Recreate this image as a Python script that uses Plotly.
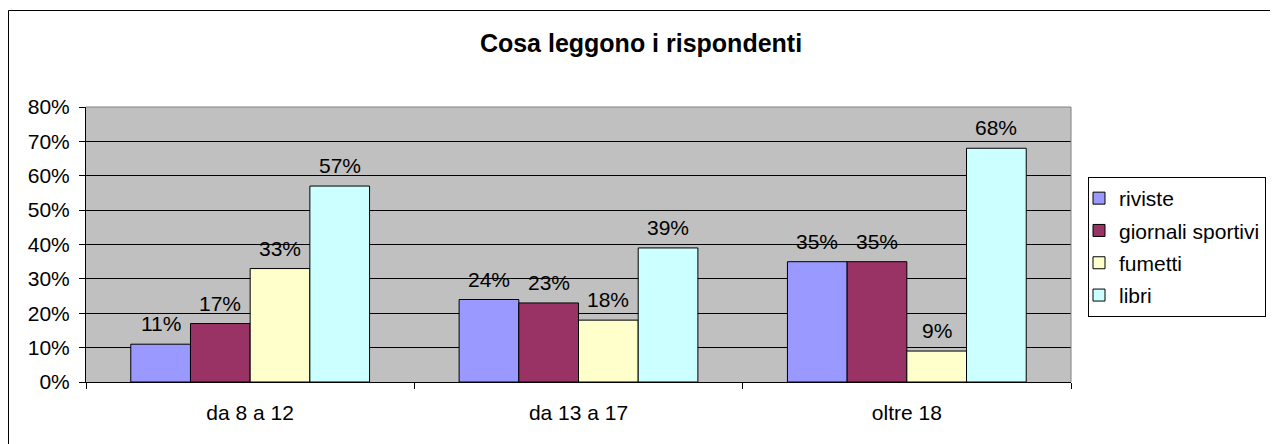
import plotly.graph_objects as go

# data
categories = ["da 8 a 12", "da 13 a 17", "oltre 18"]
series_names = ["riviste", "giornali sportivi", "fumetti", "libri"]
riviste = [0.11, 0.24, 0.35]
giornali_sportivi = [0.17, 0.23, 0.35]
fumetti = [0.33, 0.18, 0.09]
libri = [0.57, 0.39, 0.68]
colors = ["#9999FF", "#993366", "#FFFFCC", "#CCFFFF"]

# page body has an 8px margin, so the figure is drawn 8px in from the corner
OFF = 8
W, H = 1278 - OFF, 444 - OFF
L, R, T, B = 86 - OFF, 1278 - 1071, 107 - OFF, 444 - 382
FONT = "Liberation Sans, Arial, sans-serif"
BARGAP = 1.5 / 5.5  # excel gap width 150%

pw = W - L - R
ph = H - T - B


def px_x(p):
    # p is a pixel position in the screenshot
    return (p - OFF - L) / pw


def px_y(p):
    return (H - B - (p - OFF)) / ph


fig = go.Figure()
all_values = [riviste, giornali_sportivi, fumetti, libri]
for i, (name, vals) in enumerate(zip(series_names, all_values)):
    fig.add_trace(go.Bar(
        x=categories, y=vals, name=name, legendgroup=name,
        marker=dict(color=colors[i], line=dict(color="black", width=1)),
    ))

# value labels above the bars (placed like excel, a bit higher than plotly's outside text)
bw = (1 - BARGAP) / len(series_names)
for i, vals in enumerate(all_values):
    for k, v in enumerate(vals):
        fig.add_annotation(
            x=k + (i - 1.5) * bw, y=v, xref="x", yref="y",
            text=f"{round(v * 100)}%", showarrow=False,
            yanchor="bottom", yshift=7,
            font=dict(family=FONT, size=21, color="black"),
        )

# outer chart frame
fig.add_shape(type="rect", xref="paper", yref="paper",
              x0=px_x(8.5), x1=px_x(1273.5), y0=px_y(452), y1=px_y(10.5),
              line=dict(color="black", width=1), layer="above")
# plot area border top / right (grey)
fig.add_shape(type="line", xref="paper", yref="paper", x0=0, x1=1, y0=1, y1=1,
              line=dict(color="#808080", width=1), layer="above")
fig.add_shape(type="line", xref="paper", yref="paper", x0=1, x1=1, y0=0, y1=1,
              line=dict(color="#808080", width=1), layer="above")

fig.update_layout(
    width=W, height=H,
    margin=dict(l=L, r=R, t=T, b=B, autoexpand=False),
    paper_bgcolor="white", plot_bgcolor="#C0C0C0",
    barmode="group", bargap=BARGAP, bargroupgap=0,
    font=dict(family=FONT, size=21, color="black"),
    title=dict(text="<b>Cosa leggono i rispondenti</b>", x=(641 - OFF) / W, xanchor="center",
               y=1 - (43 - OFF) / H, yanchor="middle", yref="container",
               font=dict(family=FONT, size=25, color="black")),
    legend=dict(x=px_x(1088), y=px_y(177), xanchor="left", yanchor="top",
                bordercolor="black", borderwidth=1, bgcolor="white",
                indentation=-10,
                tracegroupgap=2, font=dict(family=FONT, size=21, color="black")),
    showlegend=True,
)
fig.update_xaxes(
    type="category", showline=True, linecolor="black", linewidth=1,
    ticks="outside", tickson="boundaries", ticklen=6, tickcolor="black",
    ticklabelstandoff=12, showgrid=False, zeroline=False,
    tickfont=dict(family=FONT, size=21, color="black"),
)
fig.update_yaxes(
    range=[0, 0.8], dtick=0.1, tickformat=".0%",
    showline=True, linecolor="black", linewidth=1,
    ticks="outside", ticklen=6, tickcolor="black", ticklabelstandoff=5,
    showgrid=True, gridcolor="black", gridwidth=1, zeroline=False,
    tickfont=dict(family=FONT, size=21, color="black"),
)

fig.write_html("out.html")
